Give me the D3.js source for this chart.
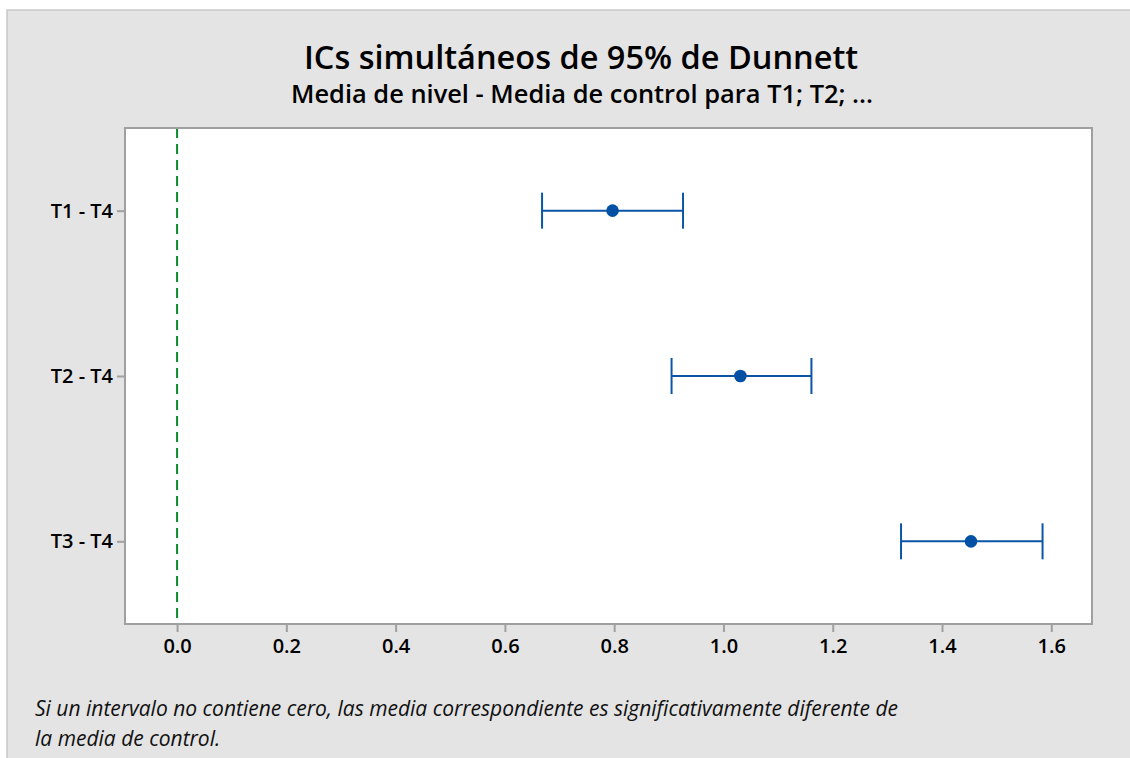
<!DOCTYPE html>
<html>
<head>
<meta charset="utf-8">
<script src="https://cdn.jsdelivr.net/npm/d3@7"></script>
<style>
  html, body { margin: 0; padding: 0; background: #ffffff; }
  svg { display: block; }
  text { font-family: "Open Sans", "Noto Sans", sans-serif; }
</style>
</head>
<body>
<svg id="chart" width="1130" height="758"></svg>
<script>
// ---- data ----
const comparisons = ["T1 - T4", "T2 - T4", "T3 - T4"];
const estimates   = [0.797, 1.031, 1.453];
const lowerCI     = [0.668, 0.905, 1.325];
const upperCI     = [0.926, 1.161, 1.584];
const xTicks      = [0.0, 0.2, 0.4, 0.6, 0.8, 1.0, 1.2, 1.4, 1.6];
const controlRef  = [0];
const titleText    = "ICs simultáneos de 95% de Dunnett";
const subtitleText = "Media de nivel - Media de control para T1; T2; ...";
const noteLines = [
  "Si un intervalo no contiene cero, las media correspondiente es significativamente diferente de",
  "la media de control."
];

const rows = comparisons.map((c, i) => ({ name: c, est: estimates[i], lo: lowerCI[i], hi: upperCI[i] }));

const svg = d3.select("#chart");

// background panel
svg.append("rect").attr("x", 7).attr("y", 10).attr("width", 1130).attr("height", 760)
  .attr("fill", "#e4e4e4").attr("stroke", "#c8c8c8").attr("stroke-width", 1.5);

const plot = { left: 125, right: 1092, top: 128, bottom: 624 };

const x = d3.scaleLinear().domain([-0.0953, 1.6745]).range([plot.left, plot.right]);
const y = d3.scalePoint().domain(comparisons).range([plot.top, plot.bottom]).padding(0.5);

// plot area
svg.append("rect").attr("x", plot.left).attr("y", plot.top)
  .attr("width", plot.right - plot.left).attr("height", plot.bottom - plot.top)
  .attr("fill", "#ffffff");

// reference line
svg.selectAll("line.ref").data(controlRef).enter().append("line")
  .attr("class", "ref")
  .attr("x1", d => x(d)).attr("x2", d => x(d))
  .attr("y1", plot.top).attr("y2", plot.bottom)
  .attr("stroke", "#0a8a2e").attr("stroke-width", 2)
  .attr("stroke-dasharray", "10,6");

// frame
svg.append("rect").attr("x", plot.left).attr("y", plot.top)
  .attr("width", plot.right - plot.left).attr("height", plot.bottom - plot.top)
  .attr("fill", "none").attr("stroke", "#a0a0a0").attr("stroke-width", 2);

// x axis
const xAxis = d3.axisBottom(x).tickValues(xTicks).tickFormat(d3.format(".1f")).tickSize(8).tickPadding(7);
const gx = svg.append("g").attr("transform", `translate(0,${plot.bottom})`).call(xAxis);
gx.select(".domain").remove();
gx.selectAll(".tick line").attr("stroke", "#a0a0a0").attr("stroke-width", 2);
gx.selectAll(".tick text").attr("fill", "#000").attr("font-size", 20).attr("font-weight", 600)
  .style("font-family", '"Open Sans", sans-serif');

// y axis
const yAxis = d3.axisLeft(y).tickSize(8).tickPadding(4);
const gy = svg.append("g").attr("transform", `translate(${plot.left},0)`).call(yAxis);
gy.select(".domain").remove();
gy.selectAll(".tick line").attr("stroke", "#a0a0a0").attr("stroke-width", 2);
gy.selectAll(".tick text").attr("fill", "#000").attr("font-size", 20).attr("font-weight", 600)
  .style("font-family", '"Open Sans", sans-serif');

// intervals
const col = "#0a56a6";
const g = svg.append("g");
g.selectAll("line.ci").data(rows).enter().append("line").attr("class", "ci")
  .attr("x1", d => x(d.lo)).attr("x2", d => x(d.hi))
  .attr("y1", d => y(d.name)).attr("y2", d => y(d.name))
  .attr("stroke", col).attr("stroke-width", 2);
g.selectAll("line.capl").data(rows).enter().append("line").attr("class", "capl")
  .attr("x1", d => x(d.lo)).attr("x2", d => x(d.lo))
  .attr("y1", d => y(d.name) - 18).attr("y2", d => y(d.name) + 18)
  .attr("stroke", col).attr("stroke-width", 2);
g.selectAll("line.caph").data(rows).enter().append("line").attr("class", "caph")
  .attr("x1", d => x(d.hi)).attr("x2", d => x(d.hi))
  .attr("y1", d => y(d.name) - 18).attr("y2", d => y(d.name) + 18)
  .attr("stroke", col).attr("stroke-width", 2);
g.selectAll("circle").data(rows).enter().append("circle")
  .attr("cx", d => x(d.est)).attr("cy", d => y(d.name)).attr("r", 6.3)
  .attr("fill", "#0050a4");

// titles
svg.append("text").attr("x", 581).attr("y", 69).attr("text-anchor", "middle")
  .attr("font-size", 32.5).attr("font-weight", 600).attr("fill", "#000").text(titleText);
svg.append("text").attr("x", 582).attr("y", 103).attr("text-anchor", "middle")
  .attr("font-size", 25).attr("font-weight", 600).attr("fill", "#000")
  .attr("textLength", 582).attr("lengthAdjust", "spacingAndGlyphs").text(subtitleText);

// note
svg.selectAll("text.note").data(noteLines).enter().append("text").attr("class", "note")
  .attr("x", 35).attr("y", (d, i) => 716 + i * 30)
  .attr("font-size", 21).attr("font-style", "italic").attr("fill", "#111")
  .text(d => d);
</script>
</body>
</html>
